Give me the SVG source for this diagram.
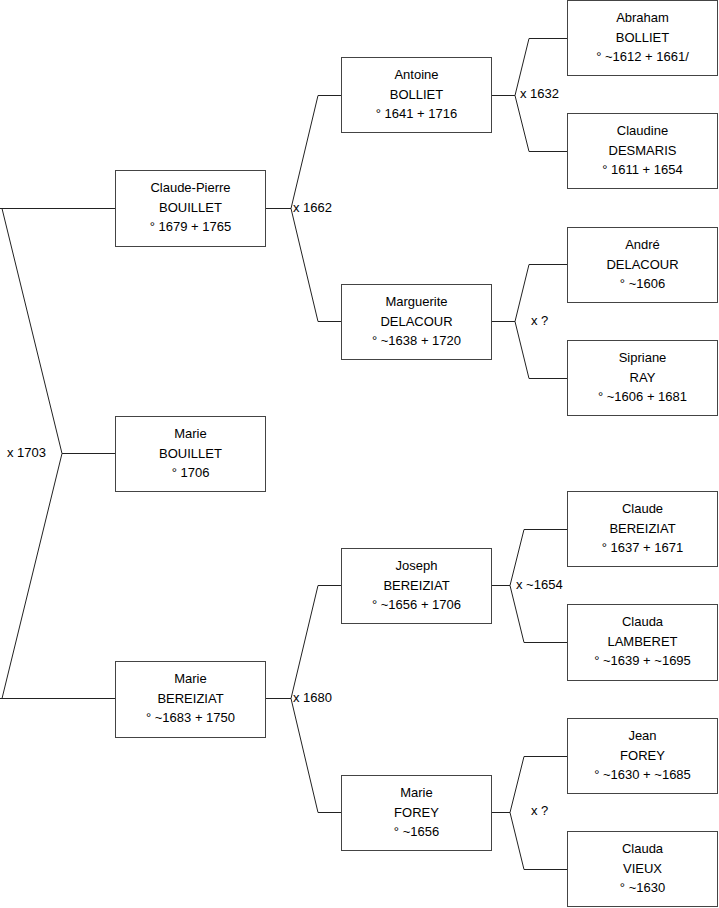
<svg xmlns="http://www.w3.org/2000/svg" width="719" height="908" viewBox="0 0 719 908">
<style>
rect.b{fill:#fff;stroke:#444;stroke-width:1}
text{font-family:"Liberation Sans",Arial,sans-serif;font-size:13px;fill:#000}
.c{text-anchor:middle}
#connectors path{fill:none;stroke:#222;stroke-width:1}
</style>
<rect width="719" height="908" fill="#fff"/>
<g id="connectors">
<path d="M0,208.5H2L62,453.5L2,698.5H0"/>
<path d="M62,453.5H115"/>
<path d="M2,208.5H115M2,698.5H115"/>
<path d="M265,208.5H291L318,95.5H341M291,208.5L318,321.5H341"/>
<path d="M265,698.5H291L318,585.5H341M291,698.5L318,812.5H341"/>
<path d="M491,95.5H515L529,38.5H567M515,95.5L529,151.5H567"/>
<path d="M491,321.5H515L529,264.5H567M515,321.5L529,378.5H567"/>
<path d="M491,585.5H510L524,529.5H567M510,585.5L524,642.5H567"/>
<path d="M491,812.5H510L524,756.5H567M510,812.5L524,869.5H567"/>
</g>
<g id="labels">
<text x="7" y="457">x 1703</text>
<text x="293" y="212">x 1662</text>
<text x="293" y="702">x 1680</text>
<text x="520" y="98">x 1632</text>
<text x="531" y="325">x ?</text>
<text x="516" y="589">x ~1654</text>
<text x="531" y="815">x ?</text>
</g>
<g id="claude-pierre"><rect class="b" x="115.5" y="170.5" width="150" height="76"/><text class="c" x="190.5" y="191.5">Claude-Pierre</text><text class="c" x="190.5" y="211.5">BOUILLET</text><text class="c" x="190.5" y="231">° 1679 + 1765</text></g>
<g id="marie-bouillet"><rect class="b" x="115.5" y="416.5" width="150" height="75"/><text class="c" x="190.5" y="437.5">Marie</text><text class="c" x="190.5" y="457.5">BOUILLET</text><text class="c" x="190.5" y="477">° 1706</text></g>
<g id="marie-bereiziat"><rect class="b" x="115.5" y="661.5" width="150" height="76"/><text class="c" x="190.5" y="682.5">Marie</text><text class="c" x="190.5" y="702.5">BEREIZIAT</text><text class="c" x="190.5" y="722">° ~1683 + 1750</text></g>
<g id="antoine"><rect class="b" x="341.5" y="57.5" width="150" height="75"/><text class="c" x="416.5" y="78.5">Antoine</text><text class="c" x="416.5" y="98.5">BOLLIET</text><text class="c" x="416.5" y="118">° 1641 + 1716</text></g>
<g id="marguerite"><rect class="b" x="341.5" y="284.5" width="150" height="75"/><text class="c" x="416.5" y="305.5">Marguerite</text><text class="c" x="416.5" y="325.5">DELACOUR</text><text class="c" x="416.5" y="345">° ~1638 + 1720</text></g>
<g id="joseph"><rect class="b" x="341.5" y="548.5" width="150" height="75"/><text class="c" x="416.5" y="569.5">Joseph</text><text class="c" x="416.5" y="589.5">BEREIZIAT</text><text class="c" x="416.5" y="609">° ~1656 + 1706</text></g>
<g id="marie-forey"><rect class="b" x="341.5" y="775.5" width="150" height="75"/><text class="c" x="416.5" y="796.5">Marie</text><text class="c" x="416.5" y="816.5">FOREY</text><text class="c" x="416.5" y="836">° ~1656</text></g>
<g id="abraham"><rect class="b" x="567.5" y="0.5" width="150" height="75"/><text class="c" x="642.5" y="21.5">Abraham</text><text class="c" x="642.5" y="41.5">BOLLIET</text><text class="c" x="642.5" y="61">° ~1612 + 1661/</text></g>
<g id="claudine"><rect class="b" x="567.5" y="113.5" width="150" height="75"/><text class="c" x="642.5" y="134.5">Claudine</text><text class="c" x="642.5" y="154.5">DESMARIS</text><text class="c" x="642.5" y="174">° 1611 + 1654</text></g>
<g id="andre"><rect class="b" x="567.5" y="227.5" width="150" height="75"/><text class="c" x="642.5" y="248.5">André</text><text class="c" x="642.5" y="268.5">DELACOUR</text><text class="c" x="642.5" y="288">° ~1606</text></g>
<g id="sipriane"><rect class="b" x="567.5" y="340.5" width="150" height="75"/><text class="c" x="642.5" y="361.5">Sipriane</text><text class="c" x="642.5" y="381.5">RAY</text><text class="c" x="642.5" y="401">° ~1606 + 1681</text></g>
<g id="claude"><rect class="b" x="567.5" y="491.5" width="150" height="75"/><text class="c" x="642.5" y="512.5">Claude</text><text class="c" x="642.5" y="532.5">BEREIZIAT</text><text class="c" x="642.5" y="552">° 1637 + 1671</text></g>
<g id="clauda-lamberet"><rect class="b" x="567.5" y="604.5" width="150" height="76"/><text class="c" x="642.5" y="625.5">Clauda</text><text class="c" x="642.5" y="645.5">LAMBERET</text><text class="c" x="642.5" y="665">° ~1639 + ~1695</text></g>
<g id="jean"><rect class="b" x="567.5" y="718.5" width="150" height="75"/><text class="c" x="642.5" y="739.5">Jean</text><text class="c" x="642.5" y="759.5">FOREY</text><text class="c" x="642.5" y="779">° ~1630 + ~1685</text></g>
<g id="clauda-vieux"><rect class="b" x="567.5" y="831.5" width="150" height="75"/><text class="c" x="642.5" y="852.5">Clauda</text><text class="c" x="642.5" y="872.5">VIEUX</text><text class="c" x="642.5" y="892">° ~1630</text></g>
</svg>
